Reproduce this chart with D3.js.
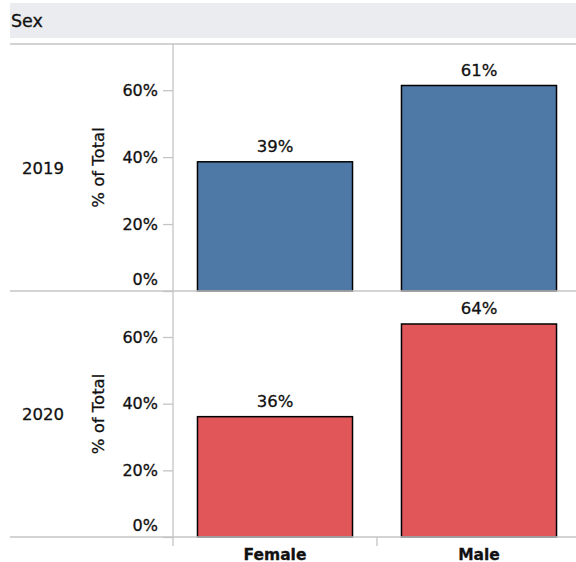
<!DOCTYPE html>
<html>
<head>
<meta charset="utf-8">
<script src="https://cdn.jsdelivr.net/npm/d3@7"></script>
<style>
  body { margin: 0; background: #fff; }
  text { font-family: "DejaVu Sans", sans-serif; fill: #111; stroke: #111; stroke-width: 0.3px; }
</style>
</head>
<body>
<div id="app"></div>
<script>
const years = ["2019", "2020"];
const sexes = ["Female", "Male"];
const values2019 = [38.6, 61.4];
const values2020 = [36.1, 63.9];
const yTicks = [0, 20, 40, 60];
const colors = ["#4e79a7", "#e15759"];

const width = 576;
const height = 562;

const series = [values2019, values2020];

const svg = d3.select("#app")
    .append("svg")
    .attr("width", width)
    .attr("height", height);

// header band
svg.append("rect")
    .attr("x", 10).attr("y", 3)
    .attr("width", width - 10).attr("height", 35)
    .attr("fill", "#ebecf0");
svg.append("text")
    .attr("x", 11).attr("y", 27)
    .attr("font-size", 17.5)
    .text("Sex");

const axisX = 173;
const x = d3.scaleBand()
    .domain(sexes)
    .range([axisX, 581])
    .paddingInner(0.24)
    .paddingOuter(0.12);

const panelTop = [44, 291];
const panelBottom = [291, 537];
const gridColor = "#c4c4c4";

years.forEach((year, i) => {
    const y = d3.scaleLinear()
        .domain([0, 73.8])
        .range([panelBottom[i], panelTop[i]]);

    const g = svg.append("g");

    // y axis
    const axis = g.append("g")
        .attr("transform", `translate(${axisX},0)`)
        .call(d3.axisLeft(y).tickValues(yTicks).tickFormat(d => d + "%").tickSize(10).tickPadding(5));
    axis.select(".domain").remove();
    axis.selectAll("line").attr("stroke", gridColor).attr("stroke-width", 1.3);
    axis.selectAll("text")
        .attr("font-size", 16)
        .attr("fill", "#111")
        .attr("dy", d => d === 0 ? "-0.4em" : "0.32em");

    // axis title
    g.append("text")
        .attr("transform", `translate(104,${(panelTop[i] + panelBottom[i]) / 2}) rotate(-90)`)
        .attr("text-anchor", "middle")
        .attr("font-size", 16.5)
        .text("% of Total");

    // year label
    g.append("text")
        .attr("x", 22)
        .attr("y", (panelTop[i] + panelBottom[i]) / 2 + 6)
        .attr("font-size", 16.5)
        .text(year);

    // bars
    g.selectAll("rect.bar")
        .data(series[i])
        .join("rect")
        .attr("class", "bar")
        .attr("x", (d, j) => x(sexes[j]))
        .attr("width", x.bandwidth())
        .attr("y", d => y(d))
        .attr("height", d => y(0) - y(d))
        .attr("fill", colors[i])
        .attr("stroke", "#000")
        .attr("stroke-width", 1.5);

    // value labels
    g.selectAll("text.lbl")
        .data(series[i])
        .join("text")
        .attr("class", "lbl")
        .attr("x", (d, j) => x(sexes[j]) + x.bandwidth() / 2)
        .attr("y", d => y(d) - 10)
        .attr("text-anchor", "middle")
        .attr("font-size", 16.5)
        .text(d => Math.round(d) + "%");
});

// frame lines
[44, 291, 537].forEach(yy => {
    svg.append("line")
        .attr("x1", 10).attr("x2", width)
        .attr("y1", yy).attr("y2", yy)
        .attr("stroke", gridColor).attr("stroke-width", 1.3);
});
svg.append("line")
    .attr("x1", axisX).attr("x2", axisX)
    .attr("y1", 44).attr("y2", 546)
    .attr("stroke", gridColor).attr("stroke-width", 1.3);

// x axis
const xAxis = svg.append("g")
    .attr("transform", "translate(0,537)");
xAxis.append("line")
    .attr("x1", 377).attr("x2", 377)
    .attr("y1", 0).attr("y2", 9)
    .attr("stroke", gridColor).attr("stroke-width", 1.3);
xAxis.selectAll("text")
    .data(sexes)
    .join("text")
    .attr("x", d => x(d) + x.bandwidth() / 2)
    .attr("y", 22.5)
    .attr("text-anchor", "middle")
    .attr("font-size", 15.5)
    .attr("font-weight", "bold")
    .attr("stroke-width", 0)
    .text(d => d);
</script>
</body>
</html>
